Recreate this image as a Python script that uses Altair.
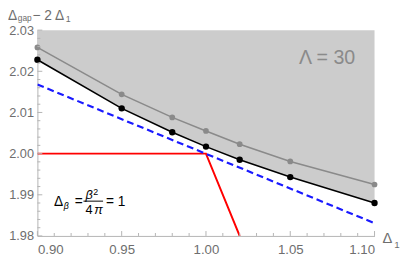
import altair as alt
import pandas as pd

# ---- data ----
delta1 = [0.90, 0.95, 0.98, 1.00, 1.02, 1.05, 1.10]
black_vals = [2.0228, 2.0110, 2.0052, 2.0017, 1.9985, 1.9943, 1.9880]
gray_vals = [2.0258, 2.0144, 2.0088, 2.0055, 2.0023, 1.9981, 1.9925]
top_val = [2.03] * len(delta1)

blue_x = [0.90, 1.10]
blue_y = [2.0168, 1.9831]

red_x = [0.90, 1.00, 1.02]
red_y = [2.00, 2.00, 1.98]

x_major = [0.90, 0.95, 1.00, 1.05, 1.10]
x_minor = [0.91, 0.92, 0.93, 0.94, 0.96, 0.97, 0.98, 0.99,
           1.01, 1.02, 1.03, 1.04, 1.06, 1.07, 1.08, 1.09]
y_major = [1.98, 1.99, 2.00, 2.01, 2.02, 2.03]
y_minor = [1.982, 1.984, 1.986, 1.988, 1.992, 1.994, 1.996, 1.998,
           2.002, 2.004, 2.006, 2.008, 2.012, 2.014, 2.016, 2.018,
           2.022, 2.024, 2.026, 2.028]

W, H = 344, 210
FONT = "Liberation Sans"
AX = "#b3b3b3"
LAB = "#6e6e6e"

df = pd.DataFrame({"x": delta1, "black": black_vals, "gray": gray_vals, "top": top_val})
df_blue = pd.DataFrame({"x": blue_x, "y": blue_y})
df_red = pd.DataFrame({"x": red_x, "y": red_y})

xs = alt.Scale(domain=[0.90, 1.10], nice=False, zero=False)
ys = alt.Scale(domain=[1.98, 2.03], nice=False, zero=False)

x_axis = alt.Axis(values=x_major, format=".2f", ticks=False, grid=False,
                  domainColor=AX, labelColor=LAB, labelFont=FONT, labelFontSize=13.5,
                  labelPadding=7, title=None)
y_axis = alt.Axis(values=y_major, format=".2f", ticks=False, grid=False,
                  domainColor=AX, labelColor=LAB, labelFont=FONT, labelFontSize=13,
                  labelPadding=4, title=None)


def X(field="x"):
    return alt.X(f"{field}:Q", scale=xs, axis=x_axis, title=None)


def Y(field):
    return alt.Y(f"{field}:Q", scale=ys, axis=y_axis, title=None)


area = alt.Chart(df).mark_area(color="#cccccc", opacity=1).encode(
    x=X(), y=Y("black"), y2="top:Q")

red = alt.Chart(df_red).mark_line(color="#ff0000", strokeWidth=2, clip=True).encode(
    x=X(), y=Y("y"))

blue = alt.Chart(df_blue).mark_line(color="#1a1aff", strokeWidth=2.2, strokeDash=[7, 4], clip=True).encode(
    x=X(), y=Y("y"))

gray_line = alt.Chart(df).mark_line(color="#8a8a8a", strokeWidth=1.6).encode(x=X(), y=Y("gray"))
gray_pts = alt.Chart(df).mark_circle(color="#8a8a8a", size=34, opacity=1).encode(x=X(), y=Y("gray"))

black_line = alt.Chart(df).mark_line(color="#000000", strokeWidth=1.6).encode(x=X(), y=Y("black"))
black_pts = alt.Chart(df).mark_circle(color="#000000", size=42, opacity=1).encode(x=X(), y=Y("black"))

# inward ticks
xt_major = alt.Chart(pd.DataFrame({"x": x_major})).mark_rule(color=AX, strokeWidth=1).encode(
    x=X(), y=alt.value(H), y2=alt.value(H - 5))
xt_minor = alt.Chart(pd.DataFrame({"x": x_minor})).mark_rule(color=AX, strokeWidth=1).encode(
    x=X(), y=alt.value(H), y2=alt.value(H - 3))
yt_major = alt.Chart(pd.DataFrame({"y": y_major})).mark_rule(color=AX, strokeWidth=1).encode(
    y=Y("y"), x=alt.value(0), x2=alt.value(5))
yt_minor = alt.Chart(pd.DataFrame({"y": y_minor})).mark_rule(color=AX, strokeWidth=1).encode(
    y=Y("y"), x=alt.value(0), x2=alt.value(3))


def txt(s, x, y, size, color="#000000", italic=False, align="left"):
    return alt.Chart(pd.DataFrame({"t": [s]})).mark_text(
        font=FONT, fontSize=size, color=color, align=align, baseline="alphabetic",
        fontStyle="italic" if italic else "normal",
    ).encode(text="t:N", x=alt.value(x), y=alt.value(y))


texts = [
    # y-axis title
    txt("Δ", -30, -10, 14, LAB),
    txt("gap", -20, -9.5, 8.5, LAB),
    txt("− 2 Δ", -5, -10, 14, LAB),
    txt("1", 29, -8, 9, LAB),
    # x-axis title
    txt("Δ", 352, 217, 15, LAB),
    txt("1", 364, 222, 10, LAB),
    # Lambda label
    txt("Λ = 30", 267, 35, 20, "#8a8a8a"),
    # formula
    txt("Δ", 17, 179, 14),
    txt("β", 27, 183, 9, italic=True),
    txt("=", 38, 179, 14),
    txt("β", 49, 172, 13, italic=True),
    txt("2", 57, 168, 9),
    txt("4", 49, 188, 13),
    txt("π", 58, 188, 13, italic=True),
    txt("= 1", 70, 179, 14),
]

bar = alt.Chart(pd.DataFrame({"a": [0]})).mark_rule(color="#000000", strokeWidth=1).encode(
    x=alt.value(47), x2=alt.value(67), y=alt.value(174.5))

chart = alt.layer(
    area, red, blue, gray_line, gray_pts, black_line, black_pts,
    xt_major, xt_minor, yt_major, yt_minor, bar, *texts
).properties(
    width=W, height=H,
    autosize=alt.AutoSizeParams(type="none"),
    padding={"left": 30, "top": 20, "right": 27, "bottom": 24},
).configure_view(stroke=None)

chart.save("out.html", embed_options={"renderer": "svg", "actions": False})
